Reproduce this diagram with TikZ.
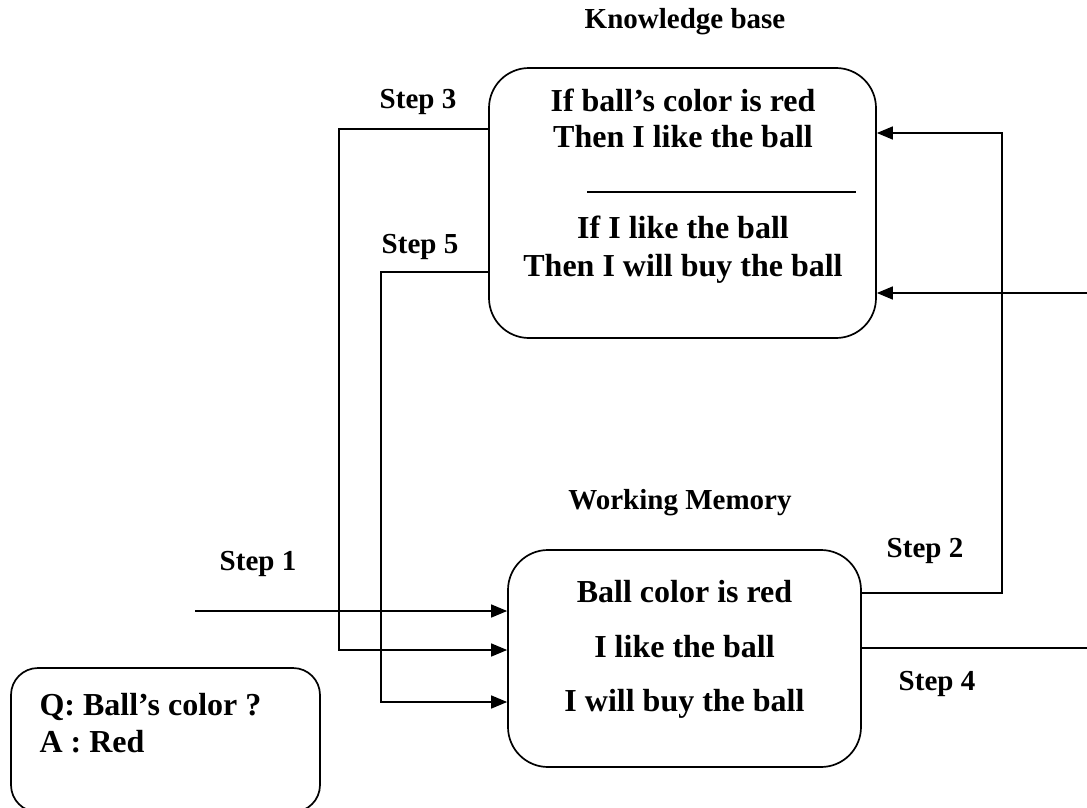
\documentclass[tikz,border=0pt]{standalone}
\usepackage{fontspec}
\setmainfont{Liberation Serif}
\usetikzlibrary{arrows.meta}

\begin{document}
\begin{tikzpicture}[x=1pt,y=-1pt,
  box/.style={draw, line width=1.7pt, rounded corners=40pt, inner sep=0pt},
  conn/.style={line width=1.4pt},
  arr/.style={conn, -{Triangle[length=16pt,width=13pt]}},
  boxtext/.style={anchor=base, font=\fontsize{32}{37}\bfseries\selectfont},
  steptext/.style={anchor=base, font=\fontsize{29}{34}\bfseries\selectfont}]
\useasboundingbox (0,0) rectangle (1087,808);
\node[box, minimum width=387pt, minimum height=270pt] (kb) at (682.5,203) {};
\node[box, minimum width=353pt, minimum height=217pt] (wm) at (684.5,658.5) {};
\node[box, rounded corners=27pt, minimum width=309pt, minimum height=144pt] (qa) at (165.5,740) {};
\node[steptext] (kbtitle) at (685,29) {Knowledge base};
\node[steptext] (wmtitle) at (680,509) {Working Memory};
\node[boxtext] (rule1a) at (683,111) {If ball’s color is red};
\node[boxtext] (rule1b) at (683,147) {Then I like the ball};
\draw[conn] (587,192) -- (856,192);
\node[boxtext] (rule2a) at (683,238) {If I like the ball};
\node[boxtext] (rule2b) at (683,276) {Then I will buy the ball};
\node[boxtext] (fact1) at (684.5,602) {Ball color is red};
\node[boxtext] (fact2) at (684.5,657) {I like the ball};
\node[boxtext] (fact3) at (684.5,711) {I will buy the ball};
\node[boxtext, anchor=base west] (question) at (36,715) {Q: Ball’s color ?};
\node[boxtext, anchor=base west] (answer) at (36,752) {A : Red};
\node[steptext] (step1) at (258,570) {Step 1};
\node[steptext] (step2) at (925,557) {Step 2};
\node[steptext] (step3) at (418,108) {Step 3};
\node[steptext] (step4) at (937,690) {Step 4};
\node[steptext] (step5) at (420,253) {Step 5};
\coordinate (in1) at (195,611);
\coordinate (s3) at (339,129);
\coordinate (m3) at (0,650);
\coordinate (s5) at (381,272);
\coordinate (m5) at (0,702);
\coordinate (s2) at (1002,593);
\coordinate (k2) at (0,133);
\coordinate (s4) at (1100,648);
\coordinate (k4) at (0,293);
\draw[arr] (in1) -- (in1 -| wm.west);
\draw[arr] (s3 -| kb.west) -- (s3) |- (m3 -| wm.west);
\draw[arr] (s5 -| kb.west) -- (s5) |- (m5 -| wm.west);
\draw[arr] (s2 -| wm.east) -- (s2) |- (k2 -| kb.east);
\draw[arr] (s4 -| wm.east) -- (s4) |- (k4 -| kb.east);
\end{tikzpicture}
\end{document}
